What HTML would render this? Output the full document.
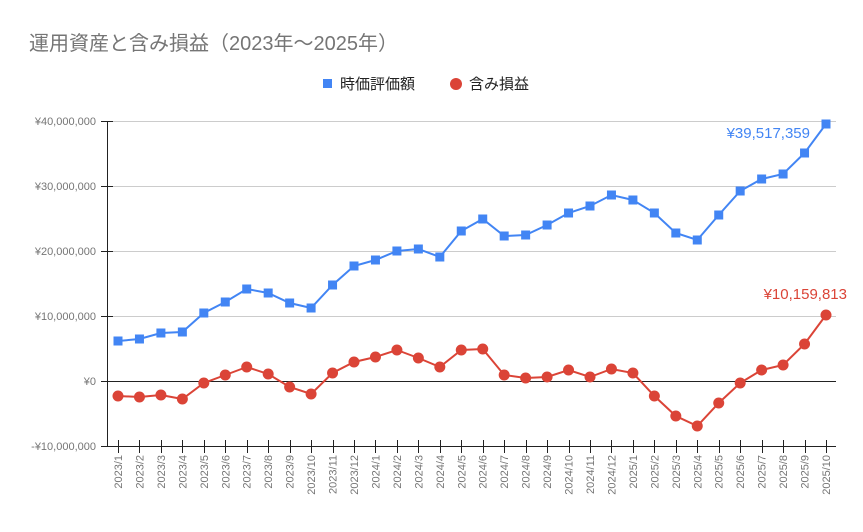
<!DOCTYPE html>
<html><head><meta charset="utf-8"><style>
body{margin:0;background:#fff}
svg{display:block;font-family:"Liberation Sans","Noto Sans CJK JP",sans-serif}
</style></head><body>
<svg width="863" height="532" xmlns="http://www.w3.org/2000/svg">
<rect width="863" height="532" fill="#fff"/>
<text x="29" y="50" font-size="20" fill="#757575">運用資産と含み損益（2023年～2025年）</text>
<rect x="323" y="79" width="9" height="9" fill="#4285f4"/>
<text x="340" y="89" font-size="15" fill="#222">時価評価額</text>
<circle cx="456" cy="84" r="6" fill="#db4437"/>
<text x="469" y="89" font-size="15" fill="#222">含み損益</text>
<g stroke="#ccc" stroke-width="1">
<line x1="107" x2="836" y1="121.5" y2="121.5"/>
<line x1="107" x2="836" y1="186.5" y2="186.5"/>
<line x1="107" x2="836" y1="251.5" y2="251.5"/>
<line x1="107" x2="836" y1="316.5" y2="316.5"/>
</g>
<g stroke="#222" stroke-width="1">
<line x1="107" x2="836" y1="381.5" y2="381.5"/>
<line x1="107" x2="836" y1="446.5" y2="446.5"/>
<line x1="107.5" x2="107.5" y1="121" y2="447"/>
<line x1="101" x2="113" y1="121.5" y2="121.5"/>
<line x1="101" x2="113" y1="186.5" y2="186.5"/>
<line x1="101" x2="113" y1="251.5" y2="251.5"/>
<line x1="101" x2="113" y1="316.5" y2="316.5"/>
<line x1="101" x2="113" y1="381.5" y2="381.5"/>
<line x1="101" x2="113" y1="446.5" y2="446.5"/>
</g>
<g font-size="11" fill="#757575" text-anchor="end">
<text x="96" y="125">¥40,000,000</text>
<text x="96" y="190">¥30,000,000</text>
<text x="96" y="255">¥20,000,000</text>
<text x="96" y="320">¥10,000,000</text>
<text x="96" y="385">¥0</text>
<text x="96" y="450">-¥10,000,000</text>
</g>
<g id="tk" stroke="#222" stroke-width="1"></g>
<g id="xl" font-size="11" fill="#757575" text-anchor="end"></g>
<polyline id="bl" fill="none" stroke="#4285f4" stroke-width="2"/>
<g id="bm" fill="#4285f4"></g>
<polyline id="rl" fill="none" stroke="#db4437" stroke-width="2"/>
<g id="rm" fill="#db4437"></g>
<text x="810" y="138" font-size="15" fill="#4285f4" text-anchor="end">¥39,517,359</text>
<text x="847" y="299" font-size="15" fill="#db4437" text-anchor="end">¥10,159,813</text>
<script>
var B=[341,339,333,332,313,302,289,293,303,308,285,266,260,251,249,257,231,219,236,235,225,213,206,195,200,213,233,240,215,191,179,174,153,124];
var R=[396,397,395,399,383,375,367,374,387,394,373,362,357,350,358,367,350,349,375,378,377,370,377,369,373,396,416,426,403,383,370,365,344,315];
var ns="http://www.w3.org/2000/svg",bp=[],rp=[];
function X(i){return 118+i*708/33;}
for(var i=0;i<34;i++){
 var x=X(i);bp.push(x+","+B[i]);rp.push(x+","+R[i]);
 var s=document.createElementNS(ns,"rect");s.setAttribute("x",x-4.5);s.setAttribute("y",B[i]-4.5);s.setAttribute("width",9);s.setAttribute("height",9);document.getElementById("bm").appendChild(s);
 var c=document.createElementNS(ns,"circle");c.setAttribute("cx",x);c.setAttribute("cy",R[i]);c.setAttribute("r",5.5);document.getElementById("rm").appendChild(c);
 var l=document.createElementNS(ns,"line");var xr=Math.round(x)+0.5;l.setAttribute("x1",xr);l.setAttribute("x2",xr);l.setAttribute("y1",440);l.setAttribute("y2",453);document.getElementById("tk").appendChild(l);
 var y=2023+Math.floor(i/12),m=i%12+1;
 var t=document.createElementNS(ns,"text");t.setAttribute("transform","translate("+(x+4)+",455) rotate(-90)");t.textContent=y+"/"+m;document.getElementById("xl").appendChild(t);
}
document.getElementById("bl").setAttribute("points",bp.join(" "));
document.getElementById("rl").setAttribute("points",rp.join(" "));
</script>
</svg>
</body></html>
